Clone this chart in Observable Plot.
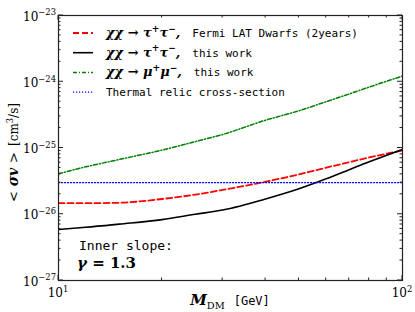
<!DOCTYPE html>
<html><head><meta charset="utf-8">
<script src="https://cdn.jsdelivr.net/npm/d3@7"></script>
<script src="https://cdn.jsdelivr.net/npm/@observablehq/plot@0.6"></script>
<style>body{margin:0;background:#fff}</style>
</head><body><div id="chart"></div>
<script>
// ---- data ----
const masses = [10, 12, 15, 20, 25, 30, 40, 50, 60, 70, 80, 90, 100];
const fermiTauTau   = [1.47e-26, 1.47e-26, 1.49e-26, 1.70e-26, 1.98e-26, 2.33e-26, 3.10e-26, 4.00e-26, 5.05e-26, 6.10e-26, 7.20e-26, 8.20e-26, 9.20e-26];
const thisTauTau    = [5.90e-27, 6.35e-27, 7.10e-27, 8.30e-27, 1.00e-26, 1.16e-26, 1.70e-26, 2.42e-26, 3.42e-26, 4.70e-26, 6.20e-26, 7.80e-26, 9.50e-26];
const thisMuMu      = [4.10e-26, 5.20e-26, 6.70e-26, 9.30e-26, 1.25e-25, 1.60e-25, 2.63e-25, 3.65e-25, 5.00e-25, 6.55e-25, 8.30e-25, 1.02e-24, 1.22e-24];
const thermalMasses = [10, 100];
const thermalRelic  = [3e-26, 3e-26];

const xTicks = [10, 100];
const xTickExp = ["1", "2"];
const xMinor = [20, 30, 40, 50, 60, 70, 80, 90];
const yTicks = [1e-27, 1e-26, 1e-25, 1e-24, 1e-23];
const yTickExp = ["−27", "−26", "−25", "−24", "−23"];

const seriesNames = ["fermi", "tautau", "mumu", "thermal"];
const seriesColors = ["#ff0000", "#000000", "#007f00", "#0000ff"];
const seriesDash = ["6,3", null, "4,2,1,2", "1.2,1.8"];
const seriesWidth = [1.8, 1.6, 1.5, 1.1];
const legendMath = ["χχ → τ^{+}τ^{−},", "χχ → τ^{+}τ^{−},", "χχ → μ^{+}μ^{−},", ""];
const legendText = ["Fermi LAT Dwarfs (2years)", "this work", "this work", "Thermal relic cross-section"];

const rows = [];
masses.forEach((m, i) => rows.push({s: "fermi", m, v: fermiTauTau[i]}));
masses.forEach((m, i) => rows.push({s: "tautau", m, v: thisTauTau[i]}));
masses.forEach((m, i) => rows.push({s: "mumu", m, v: thisMuMu[i]}));
thermalMasses.forEach((m, i) => rows.push({s: "thermal", m, v: thermalRelic[i]}));

const W = 415, H = 312, mL = 58, mR = 13, mT = 15, mB = 32;

const lineMarks = seriesNames.map((name, i) =>
  Plot.line(rows.filter(d => d.s === name), {
    x: "m", y: "v", stroke: seriesColors[i], strokeWidth: seriesWidth[i],
    strokeDasharray: seriesDash[i], curve: "monotone-x", clip: true
  }));

const plot = Plot.plot({
  width: W, height: H,
  marginLeft: mL, marginRight: mR, marginTop: mT, marginBottom: mB,
  style: {background: "#fff", overflow: "visible"},
  x: {type: "log", domain: [10, 100], axis: null},
  y: {type: "log", domain: [1e-27, 1e-23], axis: null},
  marks: [...lineMarks, Plot.frame({stroke: "#222", strokeWidth: 1.2})]
});
document.getElementById("chart").appendChild(plot);

const sx = plot.scale("x"), sy = plot.scale("y");
const svg = d3.select(plot);
const x0 = mL, x1 = W - mR, y0 = mT, y1 = H - mB;
const SERIF = "'DejaVu Serif', serif", MONO = "'DejaVu Sans Mono', monospace";

// rich text helper: parts = [{t, font, size, weight, style, dx}] with ^{..} and _{..}
function rich(textSel, parts) {
  let pending = 0;
  parts.forEach(p => {
    const toks = p.t.split(/(\^\{[^}]*\}|_\{[^}]*\})/).filter(s => s !== "");
    let first = true;
    toks.forEach(tok => {
      let txt = tok, shift = 0, scale = 1;
      if (tok.startsWith("^{")) { txt = tok.slice(2, -1); shift = -p.size * 0.42; scale = 0.7; }
      else if (tok.startsWith("_{")) { txt = tok.slice(2, -1); shift = p.size * 0.25; scale = 0.7; }
      const ts = textSel.append("tspan")
        .attr("font-family", p.font).attr("font-size", p.size * scale)
        .attr("font-weight", p.weight || "normal").attr("font-style", p.style || "normal")
        .attr("dy", shift + pending).text(txt);
      pending = -shift;
      if (first && p.dx) ts.attr("dx", p.dx);
      first = false;
    });
  });
}
function txt(x, y, anchor) {
  return svg.append("text").attr("x", x).attr("y", y).attr("text-anchor", anchor || "start").attr("fill", "#000");
}

const g = svg.append("g").attr("stroke", "#222").attr("stroke-width", 1);
// y ticks (both sides, inward)
const yMinor = [];
for (let e = -27; e < -23; e++) for (let k = 2; k <= 9; k++) yMinor.push(k * Math.pow(10, e));
yTicks.forEach(v => {
  const y = sy.apply(v);
  g.append("line").attr("x1", x0).attr("x2", x0 + 5).attr("y1", y).attr("y2", y);
  g.append("line").attr("x1", x1).attr("x2", x1 - 5).attr("y1", y).attr("y2", y);
});
yMinor.forEach(v => {
  const y = sy.apply(v);
  g.append("line").attr("x1", x0).attr("x2", x0 + 2.5).attr("y1", y).attr("y2", y);
  g.append("line").attr("x1", x1).attr("x2", x1 - 2.5).attr("y1", y).attr("y2", y);
});
xTicks.forEach(v => {
  const x = sx.apply(v);
  g.append("line").attr("x1", x).attr("x2", x).attr("y1", y1).attr("y2", y1 - 5);
  g.append("line").attr("x1", x).attr("x2", x).attr("y1", y0).attr("y2", y0 + 5);
});
xMinor.forEach(v => {
  const x = sx.apply(v);
  g.append("line").attr("x1", x).attr("x2", x).attr("y1", y1).attr("y2", y1 - 2.5);
  g.append("line").attr("x1", x).attr("x2", x).attr("y1", y0).attr("y2", y0 + 2.5);
});

// tick labels
yTicks.forEach((v, i) => {
  rich(txt(x0 - 2, sy.apply(v) + 5.5, "end"), [{t: "10^{" + yTickExp[i] + "}", font: SERIF, size: 12}]);
});
xTicks.forEach((v, i) => {
  rich(txt(sx.apply(v), y1 + 17, "middle"), [{t: "10^{" + xTickExp[i] + "}", font: SERIF, size: 12}]);
});

// axis titles
{
  const t = svg.append("text").attr("transform", `translate(18,${(y0 + y1) / 2 + 5}) rotate(-90)`)
    .attr("text-anchor", "middle").attr("fill", "#000");
  rich(t, [
    {t: "<", font: SERIF, size: 13},
    {t: " σv ", font: SERIF, size: 14, weight: "bold", style: "italic"},
    {t: ">", font: SERIF, size: 13},
    {t: "[cm^{3}/s]", font: SERIF, size: 12, dx: 6}
  ]);
}
rich(txt((x0 + x1) / 2, y1 + 25, "middle"), [
  {t: "M", font: SERIF, size: 15, weight: "bold", style: "italic"},
  {t: "_{DM}", font: SERIF, size: 14},
  {t: "[GeV]", font: MONO, size: 12, dx: 9}
]);

// legend
seriesNames.forEach((name, i) => {
  const ly = y0 + 18 + i * 19.7;
  svg.append("line").attr("x1", x0 + 15).attr("x2", x0 + 35).attr("y1", ly).attr("y2", ly)
    .attr("stroke", seriesColors[i]).attr("stroke-width", seriesWidth[i])
    .attr("stroke-dasharray", seriesDash[i]);
  const parts = [];
  if (legendMath[i]) parts.push({t: legendMath[i], font: SERIF, size: 13, weight: "bold", style: "italic"});
  parts.push({t: legendText[i], font: MONO, size: 11, dx: legendMath[i] ? 12 : 0});
  rich(txt(x0 + 48, ly + 4), parts);
});

// annotation
txt(x0 + 21, y1 - 30).attr("font-family", MONO).attr("font-size", 13).text("Inner slope:");
rich(txt(x0 + 19, y1 - 12), [
  {t: "γ", font: SERIF, size: 15, weight: "bold", style: "italic"},
  {t: " = 1.3", font: SERIF, size: 15, weight: "bold"}
]);
</script></body></html>
